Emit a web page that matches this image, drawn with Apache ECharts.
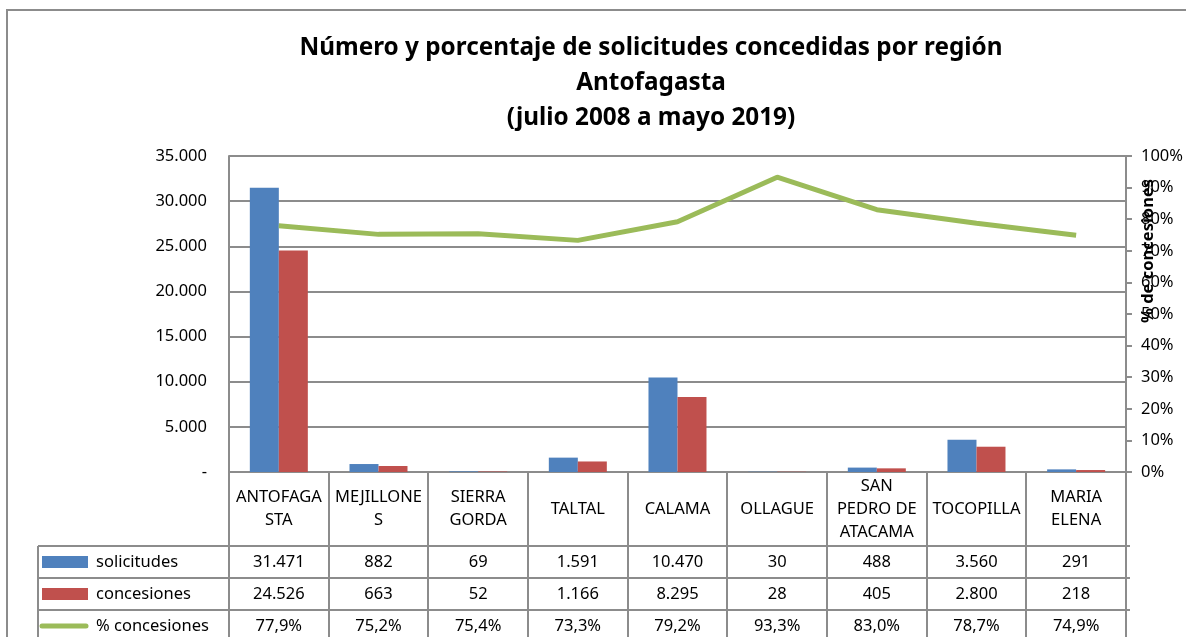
<!DOCTYPE html>
<html>
<head>
<meta charset="utf-8">
<title>Solicitudes concedidas Antofagasta</title>
<script src="https://cdn.jsdelivr.net/npm/echarts@6/dist/echarts.min.js"></script>
<style>
  html, body { margin: 0; padding: 0; background: #fff; }
  #chart { width: 1186px; height: 637px; }
</style>
</head>
<body>
<div id="chart"></div>
<script>
// datos por comuna
const comunas = ['ANTOFAGA\nSTA', 'MEJILLONE\nS', 'SIERRA\nGORDA', 'TALTAL', 'CALAMA',
  'OLLAGUE', 'SAN\nPEDRO DE\nATACAMA', 'TOCOPILLA', 'MARIA\nELENA']
const solicitudes = [31471, 882, 69, 1591, 10470, 30, 488, 3560, 291]
const concesiones = [24526, 663, 52, 1166, 8295, 28, 405, 2800, 218]
const pctConcesiones = [77.9, 75.2, 75.4, 73.3, 79.2, 93.3, 83.0, 78.7, 74.9]

const FONT = '"Noto Sans", sans-serif'
const GRAY = '#8c8c8c'

// 31471 -> "31.471"
const miles = v => String(v).replace(/\B(?=(\d{3})+(?!\d))/g, '.')
const pctTxt = v => v.toFixed(1).replace('.', ',') + '%'

// filas de la tabla de datos bajo el gráfico
const tablaFilas = [
  { nombre: 'solicitudes', valores: solicitudes.map(miles) },
  { nombre: 'concesiones', valores: concesiones.map(miles) },
  { nombre: '% concesiones', valores: pctConcesiones.map(pctTxt) }
]

const gridTop = 156, gridLeft = 229, gridRight = 56, gridBottom = 165
const axisY = 637 - gridBottom   // 472
const headerH = 74, rowH = 32

const chart = echarts.init(document.getElementById('chart'))

// ejes extra: cada fila de la tabla es un eje de categorías sin línea
const tablaAxes = tablaFilas.map((f, i) => ({
  type: 'category',
  position: 'bottom',
  offset: headerH + rowH * i + rowH / 2,
  data: f.valores,
  axisLine: { show: false },
  axisTick: { show: false },
  axisLabel: { margin: 0, verticalAlign: 'middle', fontSize: 16.5, color: '#000', fontFamily: FONT, interval: 0 }
}))

const graphics = [
  // marco exterior
  { type: 'rect', shape: { x: 7, y: 10, width: 1300, height: 800 }, style: { fill: 'none', stroke: GRAY, lineWidth: 2 }, silent: true },
  // título
  {
    type: 'text', x: 651, y: 31,
    style: {
      text: 'Número y porcentaje de solicitudes concedidas por región\nAntofagasta\n(julio 2008 a mayo 2019)',
      fontFamily: FONT, fontWeight: 'bold', fontSize: 24.3, lineHeight: 35,
      fill: '#000', align: 'center', verticalAlign: 'top'
    }
  },
  // nombre eje derecho
  {
    type: 'text', x: 1148, y: 251, rotation: Math.PI / 2,
    style: { text: '% de concesiones', fontFamily: FONT, fontWeight: 'bold', fontSize: 16.5, fill: '#000', align: 'center', verticalAlign: 'middle' }
  },
  // borde izquierdo de la tabla
  { type: 'line', shape: { x1: 38, y1: axisY + headerH, x2: 38, y2: 700 }, style: { stroke: GRAY, lineWidth: 2 } }
]

// líneas horizontales de la tabla
for (let i = 0; i <= tablaFilas.length; i++) {
  const y = axisY + headerH + rowH * i
  graphics.push({ type: 'line', shape: { x1: 38, y1: y, x2: 1186 - gridRight, y2: y }, style: { stroke: GRAY, lineWidth: 2 } })
}

// claves de leyenda y nombres de filas
const colores = ['#4F81BD', '#C0504D', '#9BBB59']
tablaFilas.forEach((f, i) => {
  const cy = axisY + headerH + rowH * i + rowH / 2
  if (i < 2) {
    graphics.push({ type: 'rect', shape: { x: 42, y: cy - 6, width: 46, height: 12 }, style: { fill: colores[i] } })
  } else {
    graphics.push({ type: 'line', shape: { x1: 42, y1: cy, x2: 86, y2: cy }, style: { stroke: colores[i], lineWidth: 5, lineCap: 'round' } })
  }
  graphics.push({
    type: 'text', x: 96, y: cy,
    style: { text: f.nombre, fontFamily: FONT, fontSize: 16.5, fill: '#000', verticalAlign: 'middle' }
  })
})

const option = {
  animation: false,
  textStyle: { fontFamily: FONT },
  grid: { top: gridTop, left: gridLeft, right: gridRight, bottom: gridBottom },
  xAxis: [
    {
      type: 'category',
      data: comunas,
      axisLine: { lineStyle: { color: GRAY, width: 2 } },
      axisTick: { show: false },
      axisLabel: {
        interval: 0, margin: headerH / 2, verticalAlign: 'middle',
        fontSize: 16.5, lineHeight: 23, color: '#000', fontFamily: FONT
      }
    },
    ...tablaAxes
  ],
  yAxis: [
    {
      type: 'value', min: 0, max: 35000, interval: 5000,
      axisLine: { show: true, lineStyle: { color: GRAY, width: 2 } },
      axisTick: { show: false },
      splitLine: { lineStyle: { color: GRAY, width: 2 } },
      axisLabel: { margin: 22, fontSize: 16.5, color: '#000', fontFamily: FONT, formatter: v => v === 0 ? '-' : miles(v) }
    },
    {
      type: 'value', min: 0, max: 100, interval: 10, position: 'right',
      axisLine: { show: true, lineStyle: { color: GRAY, width: 2 } },
      axisTick: { show: true, length: 6, lineStyle: { color: GRAY, width: 2 } },
      splitLine: { show: false },
      axisLabel: { margin: 15, fontSize: 16.5, color: '#000', fontFamily: FONT, formatter: v => v + '%' }
    }
  ],
  series: [
    { name: 'solicitudes', type: 'bar', data: solicitudes, barWidth: 29, barGap: '0%', itemStyle: { color: colores[0] } },
    { name: 'concesiones', type: 'bar', data: concesiones, barWidth: 29, itemStyle: { color: colores[1] } },
    {
      name: '% concesiones', type: 'line', yAxisIndex: 1, data: pctConcesiones,
      showSymbol: false, lineStyle: { color: colores[2], width: 5 }, itemStyle: { color: colores[2] }
    }
  ],
  graphic: graphics
}

chart.setOption(option)

// líneas verticales de la tabla en los límites de cada categoría
const c0 = chart.convertToPixel({ xAxisIndex: 0 }, 0)
const c1 = chart.convertToPixel({ xAxisIndex: 0 }, 1)
const paso = c1 - c0
const verticales = []
for (let i = 0; i <= comunas.length; i++) {
  const x = Math.round(c0 - paso / 2 + paso * i)
  verticales.push({ type: 'line', shape: { x1: x, y1: axisY, x2: x, y2: 700 }, style: { stroke: GRAY, lineWidth: 2 } })
}
chart.setOption({ graphic: graphics.concat(verticales) })
</script>
</body>
</html>
